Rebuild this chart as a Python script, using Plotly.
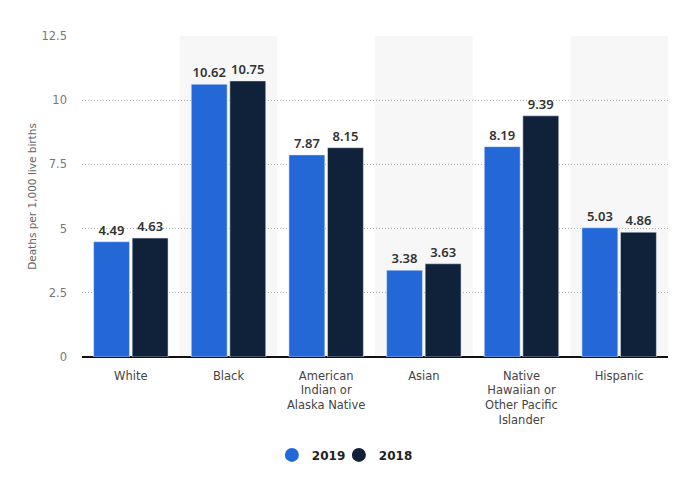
import plotly.graph_objects as go

categories = ["White", "Black", "American<br>Indian or<br>Alaska Native", "Asian",
              "Native<br>Hawaiian or<br>Other Pacific<br>Islander", "Hispanic"]
values_2019 = [4.49, 10.62, 7.87, 3.38, 8.19, 5.03]
values_2018 = [4.63, 10.75, 8.15, 3.63, 9.39, 4.86]
series_names = ["2019", "2018"]
colors = ["#2468d8", "#10223a"]
y_ticks = [0, 2.5, 5, 7.5, 10, 12.5]
y_ticktext = ["0", "2.5", "5", "7.5", "10", "12.5"]

fig = go.Figure()
for name, vals, col in zip(series_names, [values_2019, values_2018], colors):
    fig.add_trace(go.Bar(
        x=categories, y=vals, name=name, marker_color=col,
        text=[f"{v:.2f}" for v in vals], textposition="outside",
        textfont=dict(family="Noto Sans", size=13, color="#333333", weight=600),
        cliponaxis=False, showlegend=False,
    ))
    fig.add_trace(go.Scatter(
        x=[None], y=[None], mode="markers", name=name,
        marker=dict(color=col, size=14, symbol="circle"), showlegend=True,
    ))
# invisible spacer entry so the last legend label is not clipped
fig.add_trace(go.Scatter(x=[None], y=[None], mode="markers", name=" ",
                         marker=dict(color="rgba(0,0,0,0)", size=1), showlegend=True,
                         hoverinfo="skip"))

shapes = []
for i in [1, 3, 5]:
    shapes.append(dict(type="rect", xref="x", yref="paper", x0=i - 0.5, x1=i + 0.5,
                       y0=0, y1=1, fillcolor="#f7f7f7", line_width=0, layer="below"))

fig.update_layout(
    width=672, height=471,
    margin=dict(l=74, r=12, t=28, b=122, autoexpand=False),
    plot_bgcolor="white", paper_bgcolor="white",
    barmode="group", bargap=0.21, bargroupgap=0.07,
    shapes=shapes,
    font=dict(family="DejaVu Sans", color="#555555"),
    xaxis=dict(showgrid=False, ticks="", tickfont=dict(size=11.5, color="#444444"),
               showline=False, range=[-0.5, 5.5], automargin=False,
               ticklabelstandoff=10),
    yaxis=dict(range=[0, 12.5], tickvals=y_ticks, ticktext=y_ticktext,
               showgrid=True, gridcolor="#b0b0b0", griddash="1px,2px", gridwidth=1,
               zeroline=True, zerolinecolor="#111111", zerolinewidth=1.5,
               tickfont=dict(size=11.5, color="#777777"), ticklabelstandoff=14,
               automargin=False,
               title=dict(text="Deaths per 1,000 live births",
                          font=dict(size=10.5, color="#666666"), standoff=2)),
    legend=dict(orientation="h", x=0.324, xanchor="left", y=-0.305, yanchor="middle",
                font=dict(size=12, color="#222222", family="DejaVu Sans", weight="bold"),
                itemwidth=30, entrywidth=22, entrywidthmode="pixels",
                traceorder="normal"),
)
fig.write_html("out.html")
